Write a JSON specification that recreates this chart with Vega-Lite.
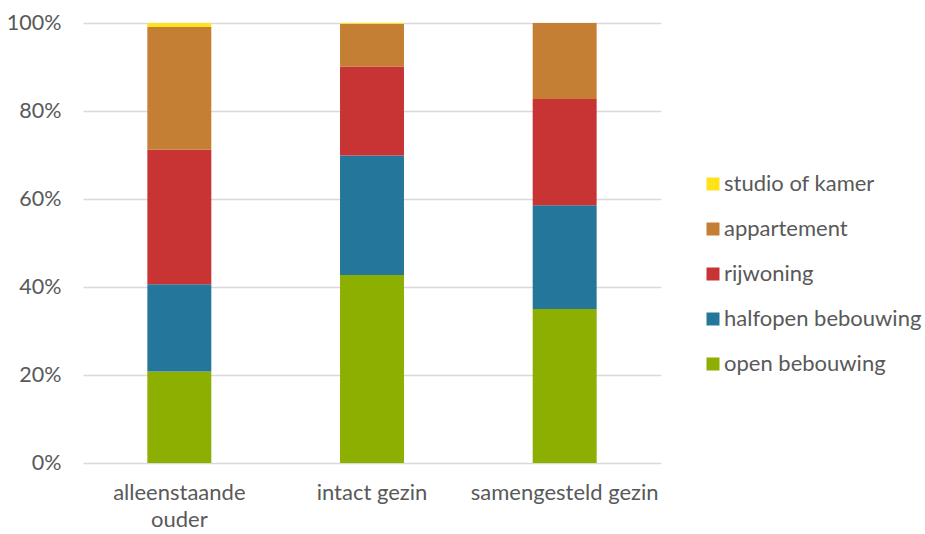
{
  "$schema": "https://vega.github.io/schema/vega-lite/v6.json",
  "autosize": "none",
  "width": 578,
  "height": 440,
  "padding": {"left": 83, "top": 23, "right": 264, "bottom": 71},
  "background": "#ffffff",
  "config": {
    "view": {"stroke": null},
    "font": "Lato"
  },
  "data": {
    "values": [
      {"groep": "alleenstaande ouder", "type": "open bebouwing", "pct": 20.8},
      {"groep": "alleenstaande ouder", "type": "halfopen bebouwing", "pct": 19.8},
      {"groep": "alleenstaande ouder", "type": "rijwoning", "pct": 30.6},
      {"groep": "alleenstaande ouder", "type": "appartement", "pct": 27.9},
      {"groep": "alleenstaande ouder", "type": "studio of kamer", "pct": 0.9},
      {"groep": "intact gezin", "type": "open bebouwing", "pct": 42.7},
      {"groep": "intact gezin", "type": "halfopen bebouwing", "pct": 27.2},
      {"groep": "intact gezin", "type": "rijwoning", "pct": 20.2},
      {"groep": "intact gezin", "type": "appartement", "pct": 9.7},
      {"groep": "intact gezin", "type": "studio of kamer", "pct": 0.2},
      {"groep": "samengesteld gezin", "type": "open bebouwing", "pct": 35.0},
      {"groep": "samengesteld gezin", "type": "halfopen bebouwing", "pct": 23.6},
      {"groep": "samengesteld gezin", "type": "rijwoning", "pct": 24.1},
      {"groep": "samengesteld gezin", "type": "appartement", "pct": 17.3},
      {"groep": "samengesteld gezin", "type": "studio of kamer", "pct": 0.0}
    ]
  },
  "transform": [
    {"calculate": "indexof(['open bebouwing', 'halfopen bebouwing', 'rijwoning', 'appartement', 'studio of kamer'], datum.type)", "as": "stapel"}
  ],
  "mark": {"type": "bar"},
  "encoding": {
    "x": {
      "field": "groep",
      "type": "nominal",
      "sort": null,
      "scale": {"paddingInner": 0.668, "paddingOuter": 0.334},
      "axis": {
        "title": null,
        "labelAngle": 0,
        "domain": false,
        "ticks": false,
        "labelFontSize": 22,
        "labelColor": "#595959",
        "labelPadding": 19,
        "labelLineHeight": 27,
        "labelLimit": 400,
        "labelExpr": "datum.label == 'alleenstaande ouder' ? ['alleenstaande', 'ouder'] : datum.label"
      }
    },
    "y": {
      "field": "pct",
      "type": "quantitative",
      "stack": "normalize",
      "scale": {"domain": [0, 1]},
      "axis": {
        "title": null,
        "format": ".0%",
        "values": [0, 0.2, 0.4, 0.6, 0.8, 1],
        "domain": false,
        "ticks": false,
        "gridColor": "#d9d9d9",
        "gridWidth": 1.5,
        "labelFontSize": 21.5,
        "labelColor": "#595959",
        "labelPadding": 22
      }
    },
    "order": {"field": "stapel", "type": "quantitative", "sort": "ascending"},
    "color": {
      "field": "type",
      "type": "nominal",
      "scale": {
        "domain": ["open bebouwing", "halfopen bebouwing", "rijwoning", "appartement", "studio of kamer"],
        "range": ["#8CAF02", "#24779B", "#C83434", "#C47F35", "#FFE21A"]
      },
      "legend": {
        "title": null,
        "values": ["studio of kamer", "appartement", "rijwoning", "halfopen bebouwing", "open bebouwing"],
        "orient": "none",
        "legendX": 619,
        "legendY": 150,
        "symbolType": "square",
        "symbolSize": 169,
        "symbolStrokeWidth": 0,
        "labelFontSize": 22,
        "labelColor": "#595959",
        "labelOffset": 0,
        "rowPadding": 23,
        "labelLimit": 300
      }
    }
  }
}
